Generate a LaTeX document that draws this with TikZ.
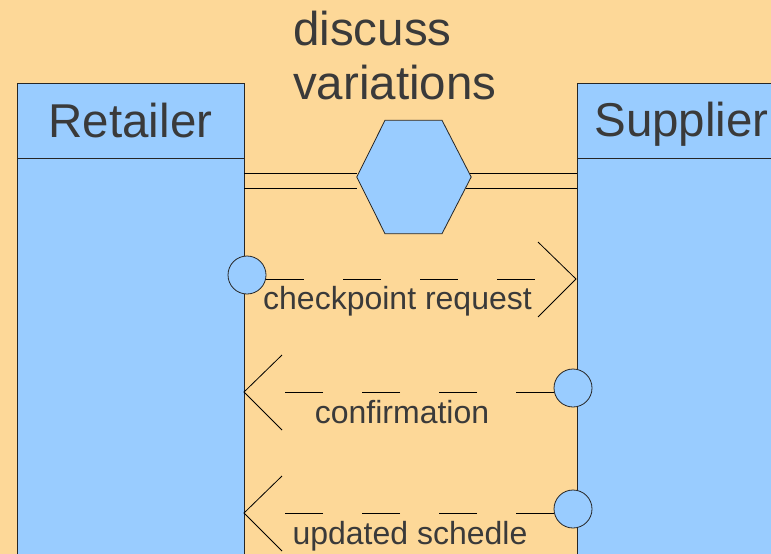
\documentclass[tikz,border=0pt]{standalone}
\usepackage{fontspec}
\setmainfont{Liberation Sans}
\definecolor{bg}{RGB}{253,216,152}
\definecolor{lane}{RGB}{153,204,255}
\definecolor{ink}{RGB}{58,58,58}
\begin{document}
\begin{tikzpicture}[x=1pt,y=-1pt,
  box/.style={draw=black!85, fill=lane, line width=0.8pt, inner sep=0pt, outer sep=0pt},
  bigtext/.style={text=ink, font=\fontsize{47.5}{54}\selectfont, inner sep=0pt},
  msg/.style={text=ink, font=\fontsize{32}{38}\selectfont, inner sep=0pt},
  port/.style={circle, draw=black!85, fill=lane, minimum size=38pt, inner sep=0pt, line width=0.8pt},
  flow/.style={line width=0.8pt, dash pattern=on 38pt off 39pt},
  wire/.style={line width=0.8pt},
  chev/.style={line width=0.8pt}]
\useasboundingbox (0,0) rectangle (771,554);
\fill[bg] (0,0) rectangle (771,554);
\clip (0,0) rectangle (771,554);

% lanes
\node[box, anchor=north west, minimum width=227pt, minimum height=410pt] (rbody) at (17,158) {};
\node[box, anchor=north west, minimum width=227pt, minimum height=75pt] (rhead) at (17,83) {};
\node[bigtext, anchor=base] (rlabel) at (130.5,137) {Retailer};
\node[box, anchor=north west, minimum width=220pt, minimum height=410pt] (sbody) at (577,158) {};
\node[box, anchor=north west, minimum width=220pt, minimum height=75pt] (shead) at (577,83) {};
\node[bigtext, anchor=base] (slabel) at (681.5,136) {Supplier};

% discuss variations
\node[bigtext, anchor=base west] (disc1) at (293,45) {discuss};
\node[bigtext, anchor=base west] (disc2) at (293,99) {variations};

% hexagon
\node[minimum width=114pt, minimum height=113pt, inner sep=0pt] (hex) at (414,177) {};
\draw[wire] ([yshift=-15pt]rbody.north east) -- ([yshift=-15pt]rbody.north east -| hex.west);
\draw[wire] ([yshift=-30pt]rbody.north east) -- ([yshift=-30pt]rbody.north east -| hex.west);
\draw[wire] ([yshift=-15pt]sbody.north west) -- ([xshift=-8pt,yshift=-15pt]sbody.north west -| hex.east);
\draw[wire] ([yshift=-30pt]sbody.north west) -- ([xshift=-5pt,yshift=-30pt]sbody.north west -| hex.east);
\draw[box] (hex.west) -- ([xshift=-29pt]hex.north) -- ([xshift=28pt]hex.north)
  -- (hex.east) -- ([xshift=28pt]hex.south) -- ([xshift=-29pt]hex.south) -- cycle;

% checkpoint request
\node[port] (p1) at (247,275) {};
\coordinate (a1) at (266,279);
\coordinate (b1) at (536,279);
\coordinate (t1) at (576,279);
\draw[flow] (a1) -- (b1);
\draw[chev] ([shift={(-38,-37)}]t1) -- (t1) -- ([shift={(-38,38)}]t1);
\node[msg, anchor=base] (m1) at (397.5,309) {checkpoint request};

% confirmation
\node[port] (p2) at (573,388) {};
\coordinate (a2) at (554,392);
\coordinate (b2) at (285,392);
\coordinate (t2) at (244,392);
\draw[flow] (a2) -- (b2);
\draw[chev] ([shift={(38,-37)}]t2) -- (t2) -- ([shift={(38,38)}]t2);
\node[msg, anchor=base] (m2) at (402,423) {confirmation};

% updated schedle
\node[port] (p3) at (573,509) {};
\coordinate (a3) at (554,513);
\coordinate (b3) at (285,513);
\coordinate (t3) at (244,513);
\draw[flow] (a3) -- (b3);
\draw[chev] ([shift={(38,-37)}]t3) -- (t3) -- ([shift={(38,38)}]t3);
\node[msg, anchor=base] (m3) at (410,544) {updated schedle};
\end{tikzpicture}
\end{document}
